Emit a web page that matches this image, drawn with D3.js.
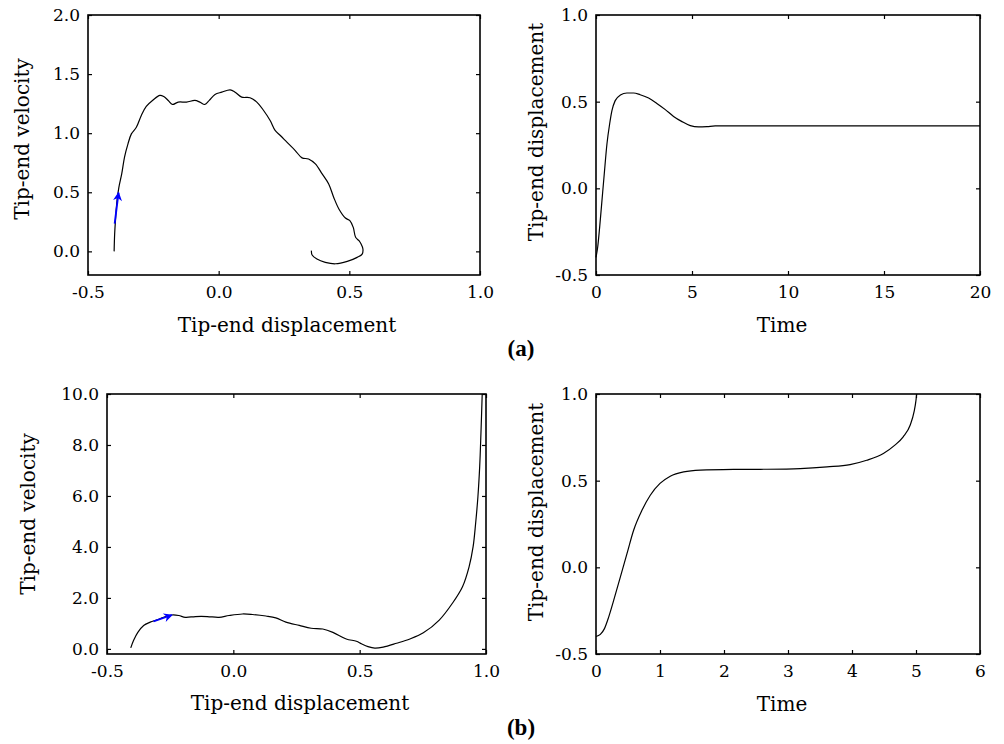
<html>
<head>
  <meta charset="utf-8" />
  <script src="https://cdnjs.cloudflare.com/ajax/libs/d3/7.8.5/d3.min.js"></script>
  <style>
    body { margin: 0; background: #fff; }
    text { font-family: "DejaVu Serif", serif; fill: #000; }
    .tick text { font-size: 17px; font-family: "DejaVu Serif", serif; }
    .tick line { stroke: #000; stroke-width: 1.2; }
    .title { font-size: 20px; }
    .tag { font-family: "Liberation Serif", serif; font-weight: bold; font-size: 23px; }
  </style>
</head>
<body>
<svg width="1004" height="744"></svg>
<script>
// (a) phase portrait: displacement vs velocity
var aPhaseX = [-0.400,-0.398,-0.394,-0.389,-0.382,-0.371,-0.360,-0.347,-0.334,-0.315,-0.296,-0.277,-0.251,-0.225,-0.210,-0.193,-0.177,-0.155,-0.123,-0.091,-0.072,-0.053,-0.036,-0.014,0.012,0.044,0.063,0.088,0.120,0.146,0.172,0.197,0.216,0.236,0.261,0.293,0.319,0.344,0.370,0.396,0.421,0.440,0.460,0.485,0.502,0.515,0.524,0.537,0.545,0.552,0.549,0.530,0.492,0.447,0.408,0.376,0.357,0.355]
var aPhaseV = [0.000,0.147,0.290,0.430,0.540,0.655,0.800,0.910,0.994,1.050,1.150,1.226,1.280,1.320,1.310,1.277,1.243,1.263,1.263,1.277,1.263,1.243,1.277,1.328,1.347,1.367,1.347,1.305,1.300,1.263,1.192,1.107,1.023,0.980,0.924,0.853,0.791,0.782,0.740,0.655,0.570,0.458,0.359,0.282,0.260,0.203,0.119,0.090,0.062,0.020,-0.023,-0.051,-0.085,-0.105,-0.093,-0.065,-0.028,0.006]
var aArrow = [[-0.398, 0.235], [-0.383, 0.497]]

// (a) time response
var aTime = [0,0.087,0.19,0.31,0.43,0.57,0.71,0.83,1.0,1.27,1.61,1.96,2.3,2.74,3.17,3.61,4.04,4.48,4.91,5.34,5.78,6.21,8,10,15,20]
var aDisp = [-0.398,-0.34,-0.225,-0.071,0.083,0.256,0.371,0.448,0.506,0.538,0.55,0.55,0.54,0.521,0.49,0.454,0.415,0.385,0.362,0.354,0.356,0.36,0.36,0.36,0.36,0.36]

// (b) phase portrait
var bPhaseX = [-0.406,-0.395,-0.378,-0.355,-0.329,-0.302,-0.276,-0.243,-0.216,-0.190,-0.150,-0.103,-0.057,-0.017,0.036,0.076,0.129,0.168,0.208,0.261,0.308,0.354,0.394,0.447,0.487,0.507,0.533,0.560,0.593,0.646,0.699,0.752,0.815,0.867,0.907,0.933,0.949,0.959,0.968,0.975,0.980,0.985]
var bPhaseV = [0.04,0.33,0.65,0.92,1.05,1.14,1.24,1.33,1.31,1.24,1.27,1.27,1.24,1.31,1.37,1.35,1.29,1.22,1.05,0.92,0.81,0.78,0.65,0.39,0.30,0.20,0.09,0.03,0.07,0.22,0.39,0.63,1.13,1.79,2.44,3.22,4.01,4.93,5.97,7.15,8.46,10.0]
var bArrow = [[-0.316, 1.08], [-0.243, 1.33]]

// (b) time response
var bTime = [0,0.068,0.13,0.198,0.276,0.38,0.484,0.588,0.718,0.848,1.0,1.16,1.37,1.63,2.15,2.67,3.19,3.61,3.97,4.23,4.49,4.67,4.80,4.91,4.97,5.0,5.01]
var bDisp = [-0.399,-0.387,-0.355,-0.287,-0.191,-0.056,0.079,0.214,0.329,0.416,0.484,0.526,0.551,0.561,0.565,0.566,0.57,0.58,0.593,0.618,0.657,0.705,0.753,0.821,0.898,0.965,1.0]

// tick values and labels
var dispTicks = [-0.5, 0, 0.5, 1.0]
var dispLabels = ["-0.5", "0.0", "0.5", "1.0"]
var velTicksA = [0, 0.5, 1.0, 1.5, 2.0]
var velLabelsA = ["0.0", "0.5", "1.0", "1.5", "2.0"]
var velTicksB = [0, 2, 4, 6, 8, 10]
var velLabelsB = ["0.0", "2.0", "4.0", "6.0", "8.0", "10.0"]
var timeTicksA = [0, 5, 10, 15, 20]
var timeLabelsA = ["0", "5", "10", "15", "20"]
var timeTicksB = [0, 1, 2, 3, 4, 5, 6]
var timeLabelsB = ["0", "1", "2", "3", "4", "5", "6"]

var svg = d3.select("svg")

svg.append("defs").append("marker")
    .attr("id", "head")
    .attr("viewBox", "0 0 10 10")
    .attr("refX", 9).attr("refY", 5)
    .attr("markerWidth", 12).attr("markerHeight", 9)
    .attr("markerUnits", "userSpaceOnUse")
    .attr("orient", "auto")
  .append("path")
    .attr("d", "M0,0 L10,5 L0,10 L3,5 z")
    .attr("fill", "#0000ff")

function panel(p) {
  var x = d3.scaleLinear().domain(p.xDomain).range([p.left, p.right])
  var y = d3.scaleLinear().domain(p.yDomain).range([p.bottom, p.top])
  var g = svg.append("g")

  g.append("g").attr("transform", "translate(0," + p.bottom + ")")
    .call(d3.axisBottom(x).tickValues(p.xTicks).tickSize(-4).tickPadding(11)
      .tickFormat((d, i) => p.xLabels[i]))
  g.append("g").attr("transform", "translate(0," + p.top + ")")
    .call(d3.axisTop(x).tickValues(p.xTicks).tickSize(-4).tickFormat(""))
  g.append("g").attr("transform", "translate(" + p.left + ",0)")
    .call(d3.axisLeft(y).tickValues(p.yTicks).tickSize(-4).tickPadding(8)
      .tickFormat((d, i) => p.yLabels[i]))
  g.append("g").attr("transform", "translate(" + p.right + ",0)")
    .call(d3.axisRight(y).tickValues(p.yTicks).tickSize(-4).tickFormat(""))
  g.selectAll(".domain").remove()
  g.selectAll(".tick text").attr("fill", "#000")

  g.append("rect")
    .attr("x", p.left).attr("y", p.top)
    .attr("width", p.right - p.left).attr("height", p.bottom - p.top)
    .attr("fill", "none").attr("stroke", "#000").attr("stroke-width", 1.6)

  var pts = p.xs.map((v, i) => [v, p.ys[i]])
  var line = d3.line().x(d => x(d[0])).y(d => y(d[1])).curve(p.curve)
  g.append("path")
    .attr("d", line(pts))
    .attr("fill", "none").attr("stroke", "#000").attr("stroke-width", 1.2)

  if (p.arrow) {
    g.append("path")
      .attr("d", d3.line().x(d => x(d[0])).y(d => y(d[1]))(p.arrow))
      .attr("stroke", "#0000ff").attr("stroke-width", 1.8).attr("fill", "none")
      .attr("marker-end", "url(#head)")
  }

  g.append("text").attr("class", "title")
    .attr("x", p.xTitlePos[0]).attr("y", p.xTitlePos[1])
    .attr("text-anchor", "middle").text(p.xTitle)
  g.append("text").attr("class", "title")
    .attr("transform", "translate(" + p.yTitlePos[0] + "," + p.yTitlePos[1] + ") rotate(-90)")
    .attr("text-anchor", "middle").text(p.yTitle)
}

panel({
  left: 88, right: 480, top: 15, bottom: 275,
  xDomain: [-0.5, 1.0], yDomain: [-0.2, 2.0],
  xTicks: dispTicks, xLabels: dispLabels, yTicks: velTicksA, yLabels: velLabelsA,
  xs: aPhaseX, ys: aPhaseV, curve: d3.curveCatmullRom.alpha(0.5), arrow: aArrow,
  xTitle: "Tip-end displacement", xTitlePos: [287, 332],
  yTitle: "Tip-end velocity", yTitlePos: [29, 139]
})
panel({
  left: 596, right: 980, top: 15, bottom: 275,
  xDomain: [0, 20], yDomain: [-0.5, 1.0],
  xTicks: timeTicksA, xLabels: timeLabelsA, yTicks: [-0.5, 0, 0.5, 1.0], yLabels: dispLabels,
  xs: aTime, ys: aDisp, curve: d3.curveMonotoneX,
  xTitle: "Time", xTitlePos: [782, 332],
  yTitle: "Tip-end displacement", yTitlePos: [543, 132]
})
panel({
  left: 107, right: 486, top: 394, bottom: 654,
  xDomain: [-0.5, 1.0], yDomain: [-0.2, 10.0],
  xTicks: dispTicks, xLabels: dispLabels, yTicks: velTicksB, yLabels: velLabelsB,
  xs: bPhaseX, ys: bPhaseV, curve: d3.curveCatmullRom.alpha(0.5), arrow: bArrow,
  xTitle: "Tip-end displacement", xTitlePos: [300, 710],
  yTitle: "Tip-end velocity", yTitlePos: [35, 514]
})
panel({
  left: 596, right: 980, top: 394, bottom: 654,
  xDomain: [0, 6], yDomain: [-0.5, 1.0],
  xTicks: timeTicksB, xLabels: timeLabelsB, yTicks: [-0.5, 0, 0.5, 1.0], yLabels: dispLabels,
  xs: bTime, ys: bDisp, curve: d3.curveMonotoneX,
  xTitle: "Time", xTitlePos: [782, 711],
  yTitle: "Tip-end displacement", yTitlePos: [543, 512]
})

svg.append("text").attr("class", "tag").attr("x", 521).attr("y", 356)
  .attr("text-anchor", "middle").text("(a)")
svg.append("text").attr("class", "tag").attr("x", 521).attr("y", 735)
  .attr("text-anchor", "middle").text("(b)")
</script>
</body>
</html>
